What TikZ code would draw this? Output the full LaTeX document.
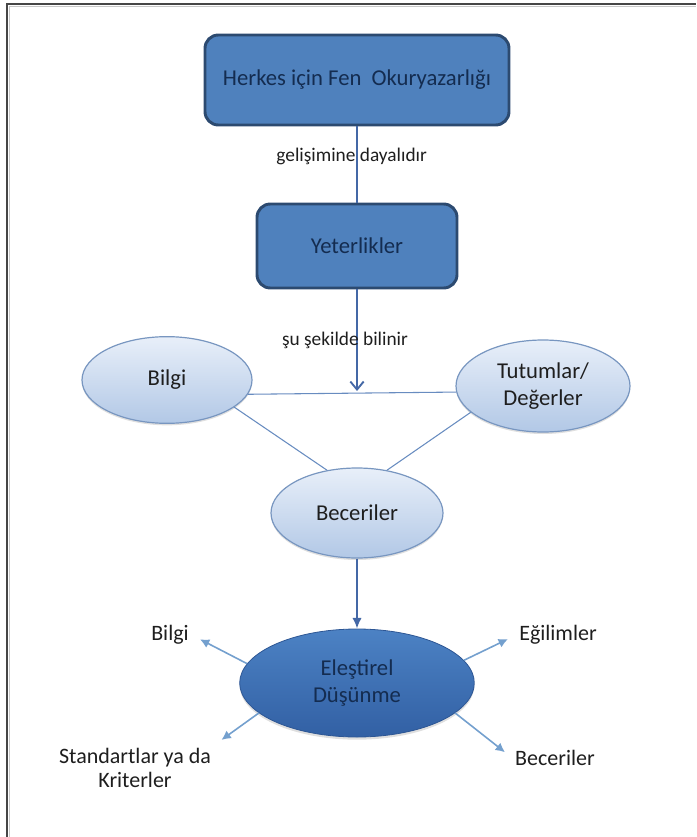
\documentclass[tikz,border=0pt]{standalone}
\usepackage{fontspec}
\setmainfont{Carlito}
\usetikzlibrary{shapes.geometric, arrows, arrows.meta, shadows}
\definecolor{boxfill}{RGB}{79,129,189}
\definecolor{boxline}{RGB}{44,74,112}
\definecolor{boxtext}{RGB}{20,44,80}
\definecolor{elltop}{RGB}{232,239,249}
\definecolor{ellbot}{RGB}{178,200,230}
\definecolor{ellline}{RGB}{120,150,192}
\definecolor{darktop}{RGB}{76,130,196}
\definecolor{darkbot}{RGB}{50,96,164}
\definecolor{stemblue}{RGB}{68,104,166}
\definecolor{thinblue}{RGB}{104,140,192}
\definecolor{spokeblue}{RGB}{116,160,206}
\definecolor{lbltext}{RGB}{30,30,30}
\definecolor{framegray}{RGB}{70,70,70}
\definecolor{framelight}{RGB}{200,200,200}
\tikzset{
    darkbox/.style={
        rectangle, rounded corners=10pt,
        draw=boxline, line width=2.2pt,
        fill=boxfill, text=boxtext,
        font=\fontsize{17}{20}\selectfont
    },
    lightell/.style={
        ellipse, inner sep=0pt,
        draw=ellline, line width=0.9pt,
        top color=elltop, bottom color=ellbot,
        drop shadow={shadow xshift=0pt, shadow yshift=-1.5pt, opacity=0.25, fill=gray},
        text=lbltext, align=center,
        font=\fontsize{17}{20}\selectfont
    },
    darkell/.style={
        ellipse, inner sep=0pt,
        draw=darkbot!90!black, line width=0.6pt,
        top color=darktop, bottom color=darkbot,
        drop shadow={shadow xshift=0pt, shadow yshift=-2pt, opacity=0.25, fill=gray},
        text=boxtext, align=center,
        font=\fontsize{17}{20}\selectfont
    },
    outlbl/.style={
        inner sep=2pt, text=lbltext, align=center,
        font=\fontsize{16.5}{18}\selectfont
    },
    midlbl/.style={
        inner sep=1pt, text=lbltext,
        font=\fontsize{14.5}{17}\selectfont
    },
    stem/.style={draw=stemblue, line width=1.4pt},
    thinline/.style={draw=thinblue, line width=0.8pt},
    spoke/.style={
        draw=spokeblue, line width=1.2pt,
        -{Latex[length=7pt,width=7pt]},
        shorten >=7pt
    }
}

\begin{document}
\begin{tikzpicture}[x=0.75pt, y=-0.75pt]
	\useasboundingbox (0,0) rectangle (696,837);
	% frame
	\draw[framegray, line width=1.5pt] (7,837) -- (7,4) -- (696,4);
	\draw[framelight, line width=0.8pt] (9.3,837) -- (9.3,6.3) -- (696,6.3);

	\node[darkbox, minimum width=228pt, minimum height=67.5pt] at (357, 80) (herkes) {Herkes için Fen~ Okuryazarlığı};
	\node[darkbox, minimum width=150pt, minimum height=63pt] at (357, 246) (yet) {Yeterlikler};
	\coordinate (junc) at (357, 391);
	\node[lightell, minimum width=127.5pt, minimum height=65pt] at (167, 380) (bilgi) {Bilgi};
	\node[lightell, minimum width=130.5pt, minimum height=69pt] at (543, 386) (tutum) {Tutumlar/\\Değerler};
	\node[lightell, minimum width=129pt, minimum height=67.5pt] at (357, 513) (becer) {Beceriler};
	\node[darkell, minimum width=176pt, minimum height=81pt] at (357, 683) (elest) {Eleştirel\\Düşünme};
	\node[outlbl] at (170, 635) (lbilgi) {Bilgi};
	\node[outlbl] at (558, 635) (legil) {Eğilimler};
	\node[outlbl] at (135, 768) (lstand) {Standartlar ya da\\Kriterler};
	\node[outlbl] at (555, 758) (lbecer) {Beceriler};

	\draw[stem] (herkes) -- node[midlbl, pos=0.4, xshift=-4pt] {gelişimine dayalıdır} (yet);
	\draw[stem, -{Straight Barb[length=6pt,width=10pt]}] (yet) -- node[midlbl, pos=0.5, xshift=-9pt] {şu şekilde bilinir} (junc);
	\draw[thinline] (bilgi.-10) -- (tutum.184);
	\draw[thinline] (bilgi.-22) -- (becer.125);
	\draw[thinline] (tutum.200) -- (becer.55);
	\draw[stem, -{Latex[length=8pt,width=7pt]}] (becer) -- (elest);
	\draw[spoke] (elest.170) -- (lbilgi.east);
	\draw[spoke] (elest.12) -- (legil.west);
	\draw[spoke] (elest.197) -- (lstand.north east);
	\draw[spoke] (elest.-17) -- (lbecer.west);
\end{tikzpicture}
\end{document}
